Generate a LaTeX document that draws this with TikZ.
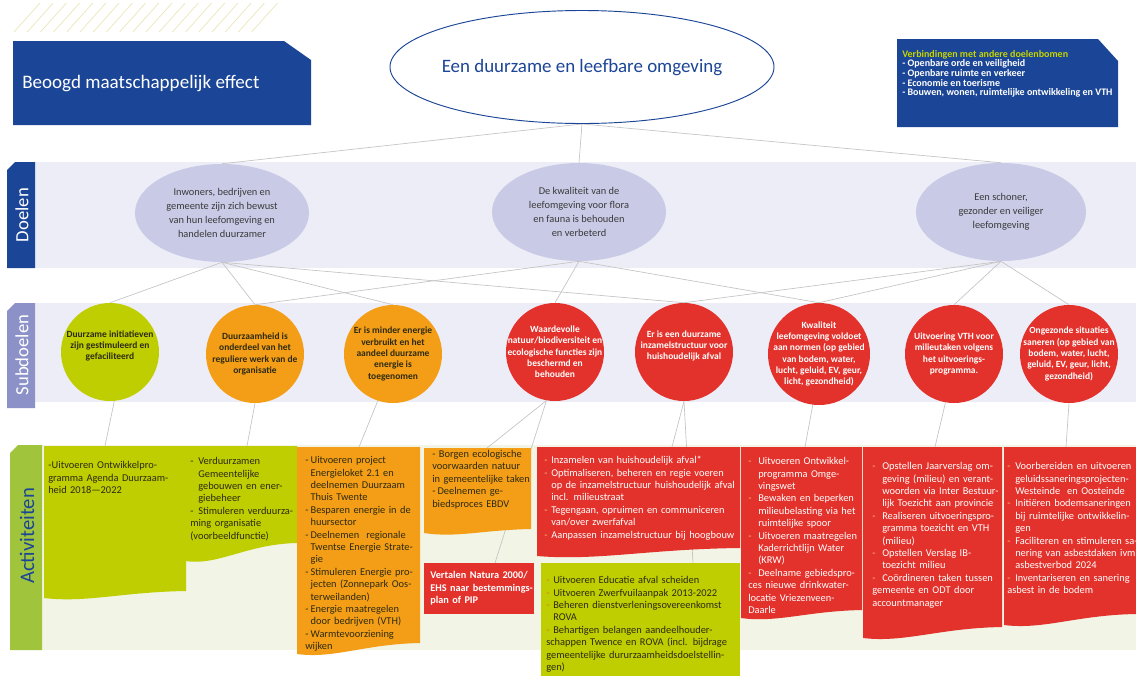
\documentclass[tikz,border=0pt]{standalone}
\usepackage{fontspec}
\setmainfont{Carlito}
\usetikzlibrary{shapes.geometric}
\pgfdeclarelayer{bg}
\pgfdeclarelayer{ln}
\pgfsetlayers{bg,ln,main}
\definecolor{dblue}{HTML}{1B4596}
\definecolor{band}{HTML}{EDEDF7}
\definecolor{doelfill}{HTML}{C9CAE6}
\definecolor{subtab}{HTML}{8C91C8}
\definecolor{lgreen}{HTML}{BECE00}
\definecolor{orng}{HTML}{F39E16}
\definecolor{rd}{HTML}{E3312B}
\definecolor{cream}{HTML}{F2F4E5}
\definecolor{acttab}{HTML}{A0C43C}
\definecolor{hatch}{HTML}{EAE6B8}
\definecolor{linegray}{HTML}{C4C4C4}
\definecolor{ttl}{HTML}{C7D400}
\definecolor{darktxt}{HTML}{2E2A12}
\definecolor{doeltxt}{HTML}{3A3A3A}
\definecolor{dashor}{HTML}{F9C27A}
\definecolor{dashdk}{HTML}{D9780F}
\newcommand\itm[2][.]{\par\noindent\hangindent=#2\hangafter=1\makebox[#2][l]{\ifx.#1-\else\textcolor{#1}{-}\fi}}
\newcommand\wavebox[6]{\fill[#1] (#2,#4) -- (#3,#4) -- (#3,#6) .. controls ({#3-0.45*(#3-#2)},{#6+1}) and ({#2+0.3*(#3-#2)},{#5+5}) .. (#2,#5) -- cycle;}
\begin{document}
\begin{tikzpicture}[x=0.75pt,y=-0.75pt,
  doel/.style={ellipse, fill=doelfill, minimum width={174*0.75pt}, minimum height={98*0.75pt}, inner sep=0pt},
  doeltext/.style={align=center, text=doeltxt, font=\fontsize{7.8}{10.5}\selectfont, inner sep=0pt},
  sub/.style={circle, minimum size={98*0.75pt}, inner sep=0pt},
  subtext/.style={align=center, font=\bfseries\fontsize{7.1}{8.5}\selectfont, inner sep=0pt},
  actx/.style={anchor=north west, text width=220pt, align=left, font=\fontsize{7.8}{9.3}\selectfont, inner sep=0pt},
  conn/.style={draw=linegray, line width=0.5pt},
  tablabel/.style={rotate=90, inner sep=0pt}]
\useasboundingbox (0,0) rectangle (1136,676);
\begin{pgfonlayer}{bg}
\fill[white] (0,0) rectangle (1136,676);
\foreach \k in {0,...,18} \draw[hatch, line width=0.5pt] ({14+13.2*\k},32) -- ({40+13.2*\k},3);
% bands
\fill[band] (35,162) rectangle (1136,268);
\fill[band] (35,303) rectangle (1136,402);
\fill[cream] (42,445) rectangle (1136,650);
\end{pgfonlayer}

% header boxes
\fill[dblue] (13,41) -- (284,41) -- (311,60) -- (311,125) -- (13,125) -- cycle;
\node[anchor=west, text=white, font=\fontsize{14.3}{16}\selectfont, inner sep=0pt] (effect) at (22,84) {Beoogd maatschappelijk effect};
\fill[dblue] (897,39) -- (1098,39) -- (1118,61) -- (1118,127) -- (897,127) -- cycle;
\node[anchor=north west, align=left, text=white, font=\bfseries\fontsize{7.5}{7.2}\selectfont, inner sep=0pt] (links) at (902,50)
 {\textcolor{ttl}{Verbindingen met andere doelenbomen}\\- Openbare orde en veiligheid\\- Openbare ruimte en verkeer\\- Economie en toerisme\\- Bouwen, wonen, ruimtelijke ontwikkeling en VTH};

\node[ellipse, draw=dblue, line width=0.7pt, fill=white, minimum width={384*0.75pt}, minimum height={113*0.75pt}] (goal) at (582,67) {};
\node[text=dblue, font=\fontsize{14.2}{16}\selectfont, inner sep=0pt] (goaltxt) at (goal.center) {Een duurzame en leefbare omgeving};

% tabs
\fill[dblue] (7,170) -- (15,162) -- (35,162) -- (35,268) -- (7,268) -- cycle;
\node[tablabel, text=white, font=\fontsize{14}{16}\selectfont] (tabd) at (22,215) {Doelen};
\fill[subtab] (7,311) -- (15,303) -- (35,303) -- (35,408) -- (7,408) -- cycle;
\node[tablabel, text=white, font=\fontsize{14}{16}\selectfont] (tabs) at (22,355) {Subdoelen};
\fill[acttab] (10,453) -- (18,445) -- (42,445) -- (42,650) -- (10,650) -- cycle;
\node[tablabel, text=dblue, font=\fontsize{15.5}{18}\selectfont] (taba) at (27,536) {Activiteiten};

% doelen
\node[doel] (d1) at (222,213) {};
\node[doeltext] (d1t) at (d1.center) {Inwoners, bedrijven en\\gemeente zijn zich bewust\\van hun leefomgeving en\\handelen duurzamer};
\node[doel] (d2) at (579,212) {};
\node[doeltext] (d2t) at (d2.center) {De kwaliteit van de\\leefomgeving voor flora\\en fauna is behouden\\en verbeterd};
\node[doel, minimum width={170*0.75pt}] (d3) at (1001,212) {};
\node[doeltext] (d3t) at (d3.center) {Een schoner,\\gezonder en veiliger\\leefomgeving};

% subdoelen
\node[sub, fill=lgreen] (s1) at (110,352) {};
\node[subtext, text=darktxt] (s1t) at (110,346) {Duurzame initiatieven\\zijn gestimuleerd en\\gefaciliteerd};
\node[sub, fill=orng] (s2) at (255,354) {};
\node[subtext, text=darktxt] (s2t) at (s2.center) {Duurzaamheid is\\onderdeel van het\\reguliere werk van de\\organisatie};
\node[sub, fill=orng] (s3) at (393,354) {};
\node[subtext, text=darktxt] (s3t) at (s3.center) {Er is minder energie\\verbruikt en het\\aandeel duurzame\\energie is\\toegenomen};
\node[sub, fill=rd] (s4) at (555,352) {};
\node[subtext, text=white] (s4t) at (s4.center) {Waardevolle\\natuur/biodiversiteit en\\ecologische functies zijn\\beschermd en\\behouden};
\node[sub, fill=rd] (s5) at (684,352) {};
\node[subtext, text=white] (s5t) at (684,346) {Er is een duurzame\\inzamelstructuur voor\\huishoudelijk afval};
\node[sub, fill=rd, minimum size={102*0.75pt}] (s6) at (819,354) {};
\node[subtext, text=white] (s6t) at (s6.center) {Kwaliteit\\leefomgeving voldoet\\aan normen (op gebied\\van bodem, water,\\lucht, geluid, EV, geur,\\licht, gezondheid)};
\node[sub, fill=rd] (s7) at (954,354) {};
\node[subtext, text=white] (s7t) at (s7.center) {Uitvoering VTH voor\\milieutaken volgens\\het uitvoerings-\\programma.};
\node[sub, fill=rd] (s8) at (1069,354) {};
\node[subtext, text=white] (s8t) at (s8.center) {Ongezonde situaties\\saneren (op gebied van\\bodem, water, lucht,\\geluid, EV, geur, licht,\\gezondheid)};

% activity boxes
\wavebox{lgreen}{44}{186}{446}{598}{591}
\wavebox{lgreen}{185}{297}{446}{561}{543}
\wavebox{orng}{297}{420}{447}{654}{643}
\wavebox{orng}{424}{531}{448}{533}{529}
\fill[rd] (424,563) rectangle (534,614);
\wavebox{rd}{537}{740}{447}{556}{548}
\fill[lgreen] (541,563) rectangle (740,676);
\wavebox{rd}{741}{862}{447}{618}{610}
\wavebox{rd}{863}{1002}{447}{638}{627}
\wavebox{rd}{1004}{1136}{447}{625}{614}

\node[actx, text=darktxt] (t1) at (48,456) {\itm{2.6pt}Uitvoeren Ontwikkelpro-\newline gramma Agenda Duurzaam-\newline heid 2018—2022};
\node[actx, text=darktxt] (t2) at (190,452) {\itm{6pt}Verduurzamen\newline Gemeentelijke\newline gebouwen en ener-\newline giebeheer\itm{6pt}Stimuleren verduurza-\newline ming organisatie\newline (voorbeeldfunctie)};
\node[actx, text=darktxt] (t3) at (305,451) {\itm{4pt}Uitvoeren project\newline Energieloket 2.1 en\newline deelnemen Duurzaam\newline Thuis Twente\itm{4pt}Besparen energie in de\newline huursector\itm{4pt}Deelnemen~ regionale\newline Twentse Energie Strate-\newline gie\itm{4pt}Stimuleren Energie pro-\newline jecten (Zonnepark Oos-\newline terweilanden)\itm{4pt}Energie maatregelen\newline door bedrijven (VTH)\itm{4pt}Warmtevoorziening\newline wijken};
\node[actx, text=darktxt] (t4) at (432,450) {\noindent - Borgen ecologische\newline voorwaarden natuur\newline in gemeentelijke taken\itm{4pt}Deelnemen ge-\newline biedsproces EBDV};
\node[actx, text=white, font=\bfseries\fontsize{7.7}{9.45}\selectfont] (t5) at (430,571) {Vertalen Natura 2000/\newline EHS naar bestemmings-\newline plan of PIP};
\node[actx, text=white] (t6) at (544,451) {\itm[dashor]{5.25pt}Inzamelen van huishoudelijk afval*\itm[dashor]{5.25pt}Optimaliseren, beheren en regie voeren\newline op de inzamelstructuur huishoudelijk afval\newline incl. milieustraat\itm[dashor]{5.25pt}Tegengaan, opruimen en communiceren\newline van/over zwerfafval\itm[dashor]{5.25pt}Aanpassen inzamelstructuur bij hoogbouw};
\node[actx, text=darktxt] (t7) at (546,571) {\itm[dashdk]{5.25pt}Uitvoeren Educatie afval scheiden\itm[dashdk]{5.25pt}Uitvoeren Zwerfvuilaanpak 2013-2022\itm[dashdk]{5.25pt}Beheren dienstverleningsovereenkomst\newline ROVA\itm[dashdk]{5.25pt}Behartigen belangen aandeelhouder-\newline schappen Twence en ROVA (incl. bijdrage\newline gemeentelijke dururzaamheidsdoelstellin-\newline gen)};
\node[actx, text=white] (t8) at (748,452) {\itm[dashor]{7.5pt}Uitvoeren Ontwikkel-\newline programma Omge-\newline vingswet\itm[dashor]{7.5pt}Bewaken en beperken\newline milieubelasting via het\newline ruimtelijke spoor\itm[dashor]{7.5pt}Uitvoeren maatregelen\newline Kaderrichtlijn Water\newline (KRW)\itm[dashor]{7.5pt}Deelname gebiedspro-\newline ces nieuwe drinkwater-\newline locatie Vriezenveen-\newline Daarle};
\node[actx, text=white] (t9) at (872,457) {\itm[dashor]{7.5pt}Opstellen Jaarverslag om-\newline geving (milieu) en verant-\newline woorden via Inter Bestuur-\newline lijk Toezicht aan provincie\itm[dashor]{7.5pt}Realiseren uitvoeringspro-\newline gramma toezicht en VTH\newline (milieu)\itm[dashor]{7.5pt}Opstellen Verslag IB-\newline toezicht milieu\itm[dashor]{7.5pt}Coördineren taken tussen\newline gemeente en ODT door\newline accountmanager};
\node[actx, text=white] (t10) at (1007,457) {\itm[dashor]{6pt}Voorbereiden en uitvoeren\newline geluidssaneringsprojecten-\newline Westeinde~ en Oosteinde\itm[dashor]{6pt}Initiëren bodemsaneringen\newline bij ruimtelijke ontwikkelin-\newline gen\itm[dashor]{6pt}Faciliteren en stimuleren sa-\newline nering van asbestdaken ivm\newline asbestverbod 2024\itm[dashor]{6pt}Inventariseren en sanering\newline asbest in de bodem};

% connector end points at the activity boxes
\coordinate (a1) at (105,446);
\coordinate (a2) at (247,446);
\coordinate (a3) at (359,447);
\coordinate (a4) at (487,448);
\coordinate (a5) at (495,563);
\coordinate (a6) at (672,447);
\coordinate (a7) at (693,563);
\coordinate (a8) at (805,447);
\coordinate (a9) at (935,447);
\coordinate (a10) at (1066,447);

\begin{pgfonlayer}{ln}
\draw[conn] (goal.south) -- (d1.north);
\draw[conn] (goal.south) -- (d2.north);
\draw[conn] (goal.south) -- (d3.north);
\draw[conn] (d1.south) -- (s1.north);
\draw[conn] (d1.south) -- (s2.north);
\draw[conn] (d1.south) -- (s3.north);
\draw[conn] (d1.south) -- (s5.north);
\draw[conn] (d2.south) -- (s2.north);
\draw[conn] (d2.south) -- (s4.north);
\draw[conn] (d2.south) -- (s6.north);
\draw[conn] (d3.south) -- (s5.north);
\draw[conn] (d3.south) -- (s6.north);
\draw[conn] (d3.south) -- (s7.north);
\draw[conn] (d3.south) -- (s8.north);
\draw[conn] (s1.-85) -- (a1);
\draw[conn] (s2.south) -- (a2);
\draw[conn] (s3.-108) -- (a3);
\draw[conn] (s4.-100) -- (a4);
\draw[conn] (s4.-100) -- (a5);
\draw[conn] (s5.south) -- (a6);
\draw[conn] (s5.south) -- (a7);
\draw[conn] (s6.-97) -- (a8);
\draw[conn] (s7.-100) -- (a9);
\draw[conn] (s8.south) -- (a10);
\end{pgfonlayer}
\end{tikzpicture}
\end{document}
